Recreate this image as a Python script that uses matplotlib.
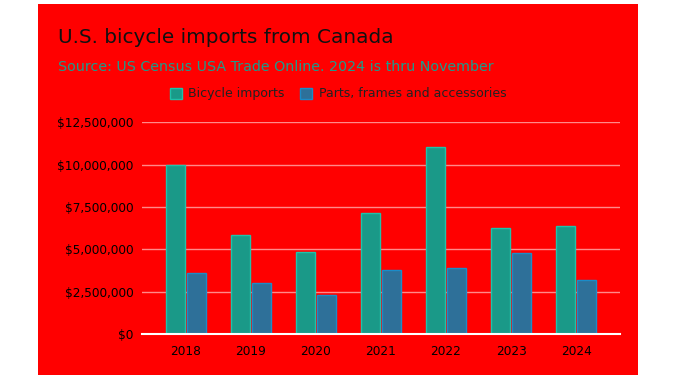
import matplotlib.pyplot as plt
import numpy as np
from matplotlib.patches import Rectangle
from matplotlib.ticker import FuncFormatter

years = ['2018', '2019', '2020', '2021', '2022', '2023', '2024']
bicycles = [9.98e6, 5.83e6, 4.82e6, 7.13e6, 11.03e6, 6.24e6, 6.36e6]
parts = [3.58e6, 2.99e6, 2.28e6, 3.76e6, 3.88e6, 4.77e6, 3.17e6]
series_names = ['Bicycle imports', 'Parts, frames and accessories']

plt.rcParams['font.family'] = ['DejaVu Sans']

fig = plt.figure(figsize=(6.76, 3.8), dpi=100, facecolor='white')
# red panel behind the chart
fig.patches.append(Rectangle((38 / 676, 5 / 380), 600 / 676, 371 / 380,
                             transform=fig.transFigure, facecolor='#ff0000',
                             edgecolor='none', zorder=0))

ax = fig.add_axes([142 / 676, 46 / 380, 478 / 676, 211.7 / 380])
ax.set_zorder(2)
ax.set_facecolor('none')

x = np.arange(len(years))
w = 0.29
ax.bar(x - 0.163, bicycles, w, color='#1a9988', edgecolor='#1fc2aa', linewidth=1,
       label=series_names[0], zorder=3)
ax.bar(x + 0.163, parts, w, color='#2e7099', edgecolor='#1b8cc8', linewidth=1,
       label=series_names[1], zorder=3)

ax.set_xlim(-0.675, 6.675)
ax.set_ylim(0, 12.5e6)
ax.set_yticks(np.arange(0, 12.5e6 + 1, 2.5e6))
ax.yaxis.set_major_formatter(FuncFormatter(lambda v, p: '${:,.0f}'.format(v)))
ax.set_xticks(x)
ax.set_xticklabels(years)
ax.tick_params(axis='both', length=0, labelsize=8.7, colors='black')
ax.tick_params(axis='y', pad=6)
ax.tick_params(axis='x', pad=8)

ax.grid(axis='y', color='#ff8a8a', linewidth=1, zorder=1)
for s in ['top', 'right', 'left']:
    ax.spines[s].set_visible(False)
ax.spines['bottom'].set_color('white')
ax.spines['bottom'].set_linewidth(1.5)
ax.spines['bottom'].set_zorder(4)

fig.text(58 / 676, 1 - 43 / 380, 'U.S. bicycle imports from Canada',
         fontsize=14.4, color='#111111', va='baseline', zorder=3)
fig.text(58 / 676, 1 - 71 / 380, 'Source: US Census USA Trade Online. 2024 is thru November',
         fontsize=10.3, color='#1c9c8c', va='baseline', zorder=3)

leg = fig.legend(loc='center', bbox_to_anchor=(0.5, 1 - 94 / 380), ncol=2, frameon=False,
                 fontsize=9, handlelength=1, handleheight=1, handletextpad=0.5,
                 columnspacing=1.2, labelcolor='#222222')
leg.set_zorder(3)

fig.savefig('out.png', dpi=100, facecolor='white')
